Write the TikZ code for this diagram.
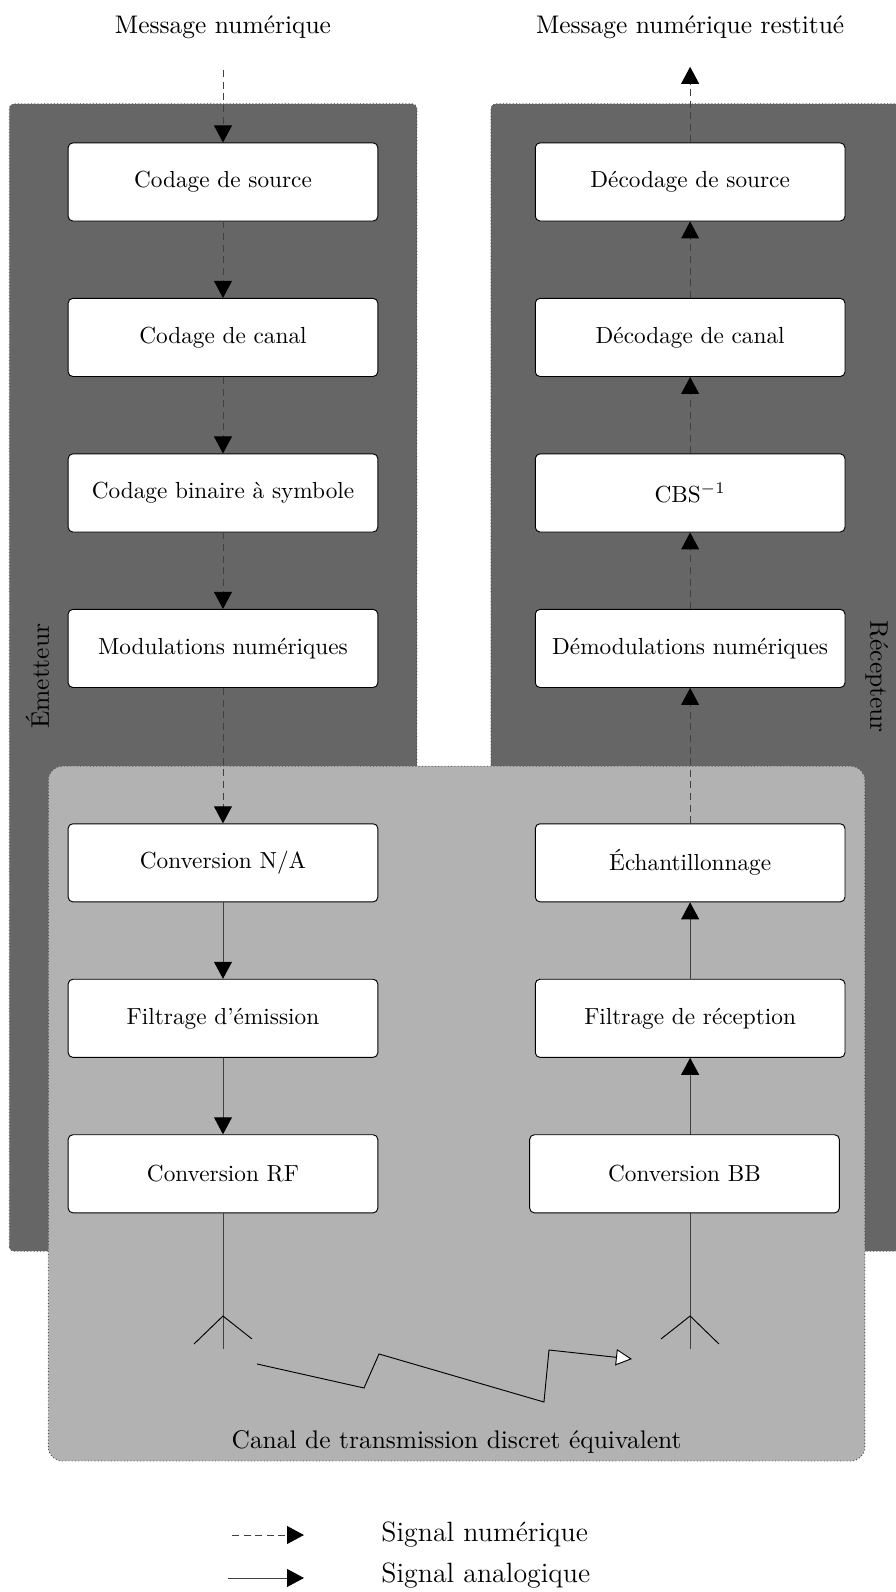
\documentclass[tikz,border=0pt]{standalone}
\usepackage{fontspec}
\usetikzlibrary{arrows.meta}

\definecolor{fondsombre}{gray}{0.4}
\definecolor{fondclair}{gray}{0.7}

\tikzset{
  bloc/.style={draw, fill=white, rounded corners=2pt, minimum width=4.68cm,
    minimum height=1.18cm, font=\fontsize{10}{12}\selectfont},
  etiquette/.style={font=\fontsize{10.95}{13.6}\selectfont},
  numerique/.style={densely dashed, black!75, -{Triangle[length=7.3pt,width=7.7pt,black]}},
  analogique/.style={black!75, -{Triangle[length=7.3pt,width=7.7pt,black]}},
  panneau/.style={draw=black!70, densely dotted},
}

\begin{document}
\begin{tikzpicture}
    \useasboundingbox (0,0) rectangle (13.53,24.06);

    % Fonds : emetteur, recepteur, canal
    \filldraw[panneau, fill=fondsombre, rounded corners=2pt] (0.14,5.15) rectangle (6.30,22.49);
    \filldraw[panneau, fill=fondsombre, rounded corners=2pt] (7.42,5.15) rectangle (13.75,22.49);
    \filldraw[panneau, fill=fondclair, rounded corners=6pt] (0.73,1.98) rectangle (13.07,12.48);

    \node[etiquette, rotate=90] (Emet) at (0.565,13.84) {Émetteur};
    \node[etiquette, rotate=-90] (Recep) at (13.25,13.83) {Récepteur};

    % Chaine d'emission
    \node[etiquette, anchor=base] (MsgIn) at (3.37,23.56) {Message numérique};
    \coordinate (Entree) at (3.37,23.00);
    \node[bloc] (CodSrc) at (3.37,21.31) {Codage de source};
    \node[bloc] (CodCan) at (3.37,18.96) {Codage de canal};
    \node[bloc] (CBS)    at (3.37,16.61) {Codage binaire à symbole};
    \node[bloc] (Modul)  at (3.37,14.26) {Modulations numériques};
    \node[bloc] (ConvNA) at (3.37,11.02) {Conversion N/A};
    \node[bloc] (FiltEm) at (3.37,8.67)  {Filtrage d’émission};
    \node[bloc] (ConvRF) at (3.37,6.32)  {Conversion RF};

    \draw[numerique] (Entree) -- (CodSrc);
    \draw[numerique] (CodSrc) -- (CodCan);
    \draw[numerique] (CodCan) -- (CBS);
    \draw[numerique] (CBS) -- (Modul);
    \draw[numerique] (Modul) -- (ConvNA);
    \draw[analogique] (ConvNA) -- (FiltEm);
    \draw[analogique] (FiltEm) -- (ConvRF);

    % Antenne d'emission
    \coordinate (PiedE) at (3.37,3.672);
    \coordinate (ApexE) at (3.37,4.171);
    \draw[black!75] (ConvRF) -- (PiedE);
    \draw (2.932,3.748) -- (ApexE) -- (3.808,3.824);

    % Chaine de reception
    \node[etiquette, anchor=base] (MsgOut) at (10.43,23.56) {Message numérique restitué};
    \coordinate (Sortie) at (10.43,23.05);
    \node[bloc] (DecSrc) at (10.43,21.31) {Décodage de source};
    \node[bloc] (DecCan) at (10.43,18.96) {Décodage de canal};
    \node[bloc] (CBSinv) at (10.43,16.61) {CBS$^{-1}$};
    \node[bloc] (Demod)  at (10.43,14.26) {Démodulations numériques};
    \node[bloc] (Echant) at (10.43,11.02) {Échantillonnage};
    \node[bloc] (FiltRec) at (10.43,8.67) {Filtrage de réception};

    % Antenne de reception
    \coordinate (PiedR) at (10.43,3.672);
    \coordinate (ApexR) at (10.43,4.171);
    \draw[analogique] (PiedR) -- (FiltRec);
    \draw (9.990,3.824) -- (ApexR) -- (10.866,3.748);
    \node[bloc] (ConvBB) at (10.345,6.32) {Conversion BB};

    \draw[analogique] (FiltRec) -- (Echant);
    \draw[numerique] (Echant) -- (Demod);
    \draw[numerique] (Demod) -- (CBSinv);
    \draw[numerique] (CBSinv) -- (DecCan);
    \draw[numerique] (DecCan) -- (DecSrc);
    \draw[numerique] (DecSrc) -- (Sortie);

    % Trajet radio
    \draw[-{Triangle[length=6.9pt,width=7pt,fill=white]}] (3.884,3.446) -- (5.501,3.083)
        -- (5.728,3.597) -- (8.221,2.871) -- (8.297,3.657) -- (9.551,3.521);
    \node[etiquette, anchor=base] (Canal) at (6.90,2.176) {Canal de transmission discret équivalent};

    % Legende
    \node[anchor=base west, font=\large] (LegNum) at (5.64,0.756) {Signal numérique};
    \node[anchor=base west, font=\large] (LegAna) at (5.64,0.151) {Signal analogique};
    \coordinate (LegNumA) at (3.506,0.861);
    \coordinate (LegNumB) at (4.594,0.861);
    \coordinate (LegAnaA) at (3.446,0.212);
    \coordinate (LegAnaB) at (4.594,0.212);
    \draw[numerique] (LegNumA) -- (LegNumB);
    \draw[analogique] (LegAnaA) -- (LegAnaB);
\end{tikzpicture}
\end{document}
